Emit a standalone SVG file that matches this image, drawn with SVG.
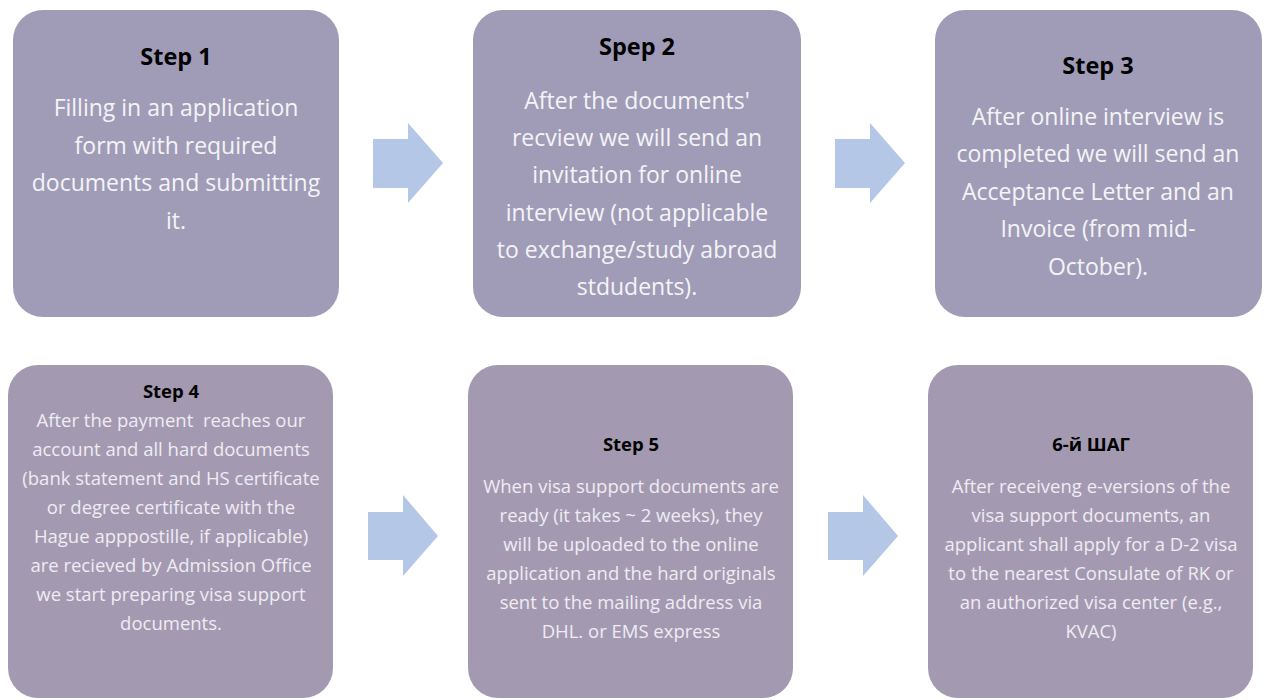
<svg xmlns="http://www.w3.org/2000/svg" width="1264" height="700" viewBox="0 0 1264 700">
<style>
.box1{fill:#A09CB8}
.box2{fill:#A39AB2}
.arrow{fill:#B4C7E7}
.t{font-family:"Open Sans","Noto Sans",sans-serif;text-anchor:middle}
.h1{font-size:23.5px;font-weight:bold;fill:#000}
.b1{font-size:23px;fill:#F4F4F6}
.h2{font-size:18.5px;font-weight:bold;fill:#000}
.b2{font-size:18.5px;fill:#EFECF2}
</style>
<rect width="1264" height="700" fill="#FFFFFF"/>
<g id="connectors">
<polygon class="arrow" points="373,139 408,139 408,123 443,163 408,203 408,188 373,188"/>
<polygon class="arrow" points="835,139 870,139 870,123 905,163 870,203 870,188 835,188"/>
<polygon class="arrow" points="368,512 403,512 403,495 438,536 403,576 403,560 368,560"/>
<polygon class="arrow" points="828,512 863,512 863,495 898,536 863,576 863,560 828,560"/>
</g>
<g id="step1">
<rect class="box1" x="13" y="10" width="326" height="307" rx="30"/>
<text class="t h1" x="176" y="65">Step 1</text>
<text class="t b1" x="176" y="116">Filling in an application</text>
<text class="t b1" x="176" y="154">form with required</text>
<text class="t b1" x="176" y="191">documents and submitting</text>
<text class="t b1" x="176" y="229">it.</text>
</g>
<g id="step2">
<rect class="box1" x="473" y="10" width="328" height="307" rx="30"/>
<text class="t h1" x="637" y="55">Spep 2</text>
<text class="t b1" x="637" y="109">After the documents'</text>
<text class="t b1" x="637" y="146">recview we will send an</text>
<text class="t b1" x="637" y="183">invitation for online</text>
<text class="t b1" x="637" y="221">interview (not applicable</text>
<text class="t b1" x="637" y="258">to exchange/study abroad</text>
<text class="t b1" x="637" y="295">stdudents).</text>
</g>
<g id="step3">
<rect class="box1" x="935" y="10" width="327" height="307" rx="30"/>
<text class="t h1" x="1098" y="74">Step 3</text>
<text class="t b1" x="1098" y="125">After online interview is</text>
<text class="t b1" x="1098" y="162">completed we will send an</text>
<text class="t b1" x="1098" y="200">Acceptance Letter and an</text>
<text class="t b1" x="1098" y="237">Invoice (from mid-</text>
<text class="t b1" x="1098" y="275">October).</text>
</g>
<g id="step4">
<rect class="box2" x="8" y="365" width="325" height="333" rx="30"/>
<text class="t h2" x="171" y="398">Step 4</text>
<text class="t b2" x="171" y="427" style="white-space:pre">After the payment  reaches our</text>
<text class="t b2" x="171" y="456">account and all hard documents</text>
<text class="t b2" x="171" y="485">(bank statement and HS certificate</text>
<text class="t b2" x="171" y="514">or degree certificate with the</text>
<text class="t b2" x="171" y="543">Hague apppostille, if applicable)</text>
<text class="t b2" x="171" y="572">are recieved by Admission Office</text>
<text class="t b2" x="171" y="601">we start preparing visa support</text>
<text class="t b2" x="171" y="630">documents.</text>
</g>
<g id="step5">
<rect class="box2" x="468" y="365" width="325" height="333" rx="30"/>
<text class="t h2" x="631" y="451">Step 5</text>
<text class="t b2" x="631" y="493">When visa support documents are</text>
<text class="t b2" x="631" y="522">ready (it takes ~ 2 weeks), they</text>
<text class="t b2" x="631" y="551">will be uploaded to the online</text>
<text class="t b2" x="631" y="580">application and the hard originals</text>
<text class="t b2" x="631" y="609">sent to the mailing address via</text>
<text class="t b2" x="631" y="638">DHL. or EMS express</text>
</g>
<g id="step6">
<rect class="box2" x="928" y="365" width="325" height="333" rx="30"/>
<text class="t h2" x="1091" y="451">6-й ШАГ</text>
<text class="t b2" x="1091" y="493">After receiveng e-versions of the</text>
<text class="t b2" x="1091" y="522">visa support documents, an</text>
<text class="t b2" x="1091" y="551">applicant shall apply for a D-2 visa</text>
<text class="t b2" x="1091" y="580">to the nearest Consulate of RK or</text>
<text class="t b2" x="1091" y="609">an authorized visa center (e.g.,</text>
<text class="t b2" x="1091" y="638">KVAC)</text>
</g>
</svg>
